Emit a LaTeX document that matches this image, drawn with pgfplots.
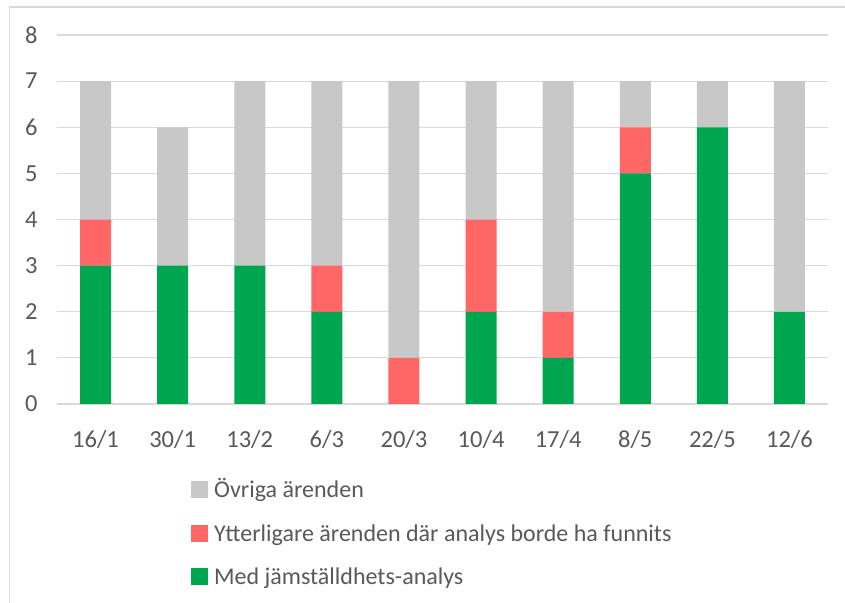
\documentclass[border=0pt]{standalone}
\usepackage{pgfplots}
\pgfplotsset{compat=1.18}
\usepackage{fontspec}
\setmainfont{Carlito}
\definecolor{txt}{HTML}{595959}
\definecolor{gridc}{HTML}{D9D9D9}
\definecolor{cgray}{HTML}{C8C8C8}
\definecolor{cred}{HTML}{FF6666}
\definecolor{cgreen}{HTML}{00A550}
\begin{document}
\begin{tikzpicture}
\useasboundingbox (0,0) rectangle (845bp,603bp);
\draw[gridc, line width=1.5bp] (9.5bp,-10bp) -- (9.5bp,596bp) -- (860bp,596bp);
\begin{axis}[
  at={(57bp,199bp)}, anchor=south west,
  scale only axis, width=771bp, height=369bp,
  ybar stacked, bar width=31bp,
  xmin=-0.5, xmax=9.5, ymin=0, ymax=8,
  xtick={0,...,9},
  xticklabels={16/1,30/1,13/2,6/3,20/3,10/4,17/4,8/5,22/5,12/6},
  ytick={0,...,8},
  axis line style={draw=none},
  major tick length=0pt,
  ymajorgrids, grid style={gridc, line width=1.2bp},
  tick label style={font=\fontsize{24.5bp}{28bp}\selectfont, text=txt},
  /pgf/number format/assume math mode=true,
  yticklabel style={xshift=-16bp},
  xticklabel style={yshift=-23bp},
  legend image code/.code={\fill[#1] (0bp,-8.5bp) rectangle (17bp,8.5bp); \path (22bp,0bp);},
  reverse legend,
  legend cell align=left,
  legend style={at={(0.1738,-0.1992)}, anchor=north west, draw=none, fill=none,
    font=\fontsize{24bp}{28bp}\selectfont, text=txt, inner sep=0pt,
    nodes={inner sep=1bp}, row sep=23bp},
]
\addplot[fill=cgreen, draw=none] coordinates {(0,3) (1,3) (2,3) (3,2) (4,0) (5,2) (6,1) (7,5) (8,6) (9,2)};
\addplot[fill=cred, draw=none] coordinates {(0,1) (1,0) (2,0) (3,1) (4,1) (5,2) (6,1) (7,1) (8,0) (9,0)};
\addplot[fill=cgray, draw=none] coordinates {(0,3) (1,3) (2,4) (3,4) (4,6) (5,3) (6,5) (7,1) (8,1) (9,5)};
\legend{Med jämställdhets-analys, Ytterligare ärenden där analys borde ha funnits, Övriga ärenden}
\end{axis}
\end{tikzpicture}
\end{document}
